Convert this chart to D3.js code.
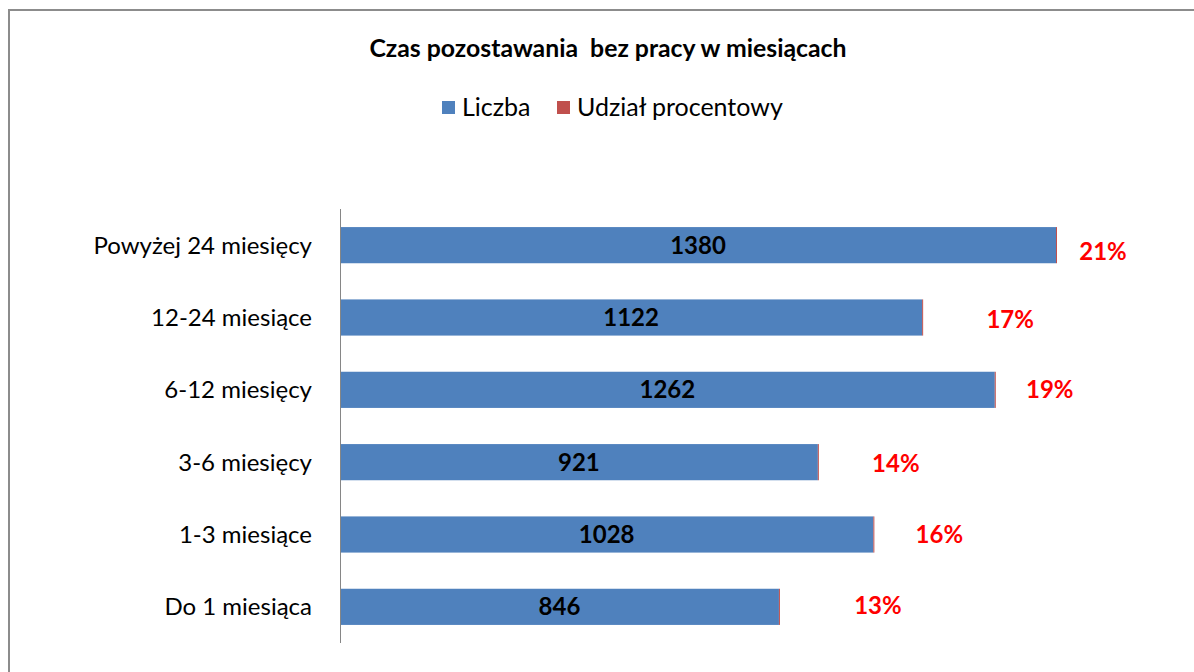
<!DOCTYPE html>
<html><head><meta charset="utf-8">
<script src="https://cdn.jsdelivr.net/npm/d3@7"></script>
<style>body{margin:0;background:#fff}svg{display:block}text{white-space:pre}</style>
</head><body>
<script>
const categories = ["Powyżej 24 miesięcy","12-24 miesiące","6-12 miesięcy","3-6 miesięcy","1-3 miesiące","Do 1 miesiąca"];
const liczba = [1380,1122,1262,921,1028,846];
const udzial = [0.21,0.17,0.19,0.14,0.16,0.13];
const seriesNames = ["Liczba","Udział procentowy"];
const title = "Czas pozostawania  bez pracy w miesiącach";

// layout (manual label placement as in the original)
const pctLabelOffset = [47,88,55,78,66,99];
const pctLabelDy = [6,2,0,1,0,-1];

const W=1194,H=672;
const font = "Lato, 'Open Sans', sans-serif";
const svg = d3.select("body").append("svg").attr("width",W).attr("height",H);
svg.append("rect").attr("width",W).attr("height",H).attr("fill","#fff");
svg.append("path").attr("d",`M9,${H} V10 H${W}`).attr("fill","none").attr("stroke","#8c8c8c").attr("stroke-width",2);

const x = d3.scaleLinear().domain([0,1380]).range([340,1056]);
const y = d3.scaleBand().domain(categories).range([209,643]).paddingInner(0.5).paddingOuter(0.25);

svg.append("text").attr("x",608).attr("y",57).attr("text-anchor","middle")
  .attr("font-family",font).attr("font-weight","bold").attr("font-size",24.8).attr("fill","#000").text(title);

const colors = ["#4f81bd","#c0504d"];
const leg = [{x:442,name:seriesNames[0]},{x:557,name:seriesNames[1]}];
leg.forEach((l,i)=>{
  svg.append("rect").attr("x",l.x).attr("y",101).attr("width",13).attr("height",13).attr("fill",colors[i]);
  svg.append("text").attr("x",l.x+20).attr("y",116).attr("font-family",font).attr("font-size",25).attr("fill","#000").text(l.name);
});

const data = categories.map((c,i)=>({c,l:liczba[i],u:udzial[i],i}));
svg.selectAll(".b").data(data).join("rect").attr("class","b")
  .attr("x",x(0)).attr("y",d=>y(d.c)).attr("width",d=>x(d.l)-x(0)).attr("height",y.bandwidth()).attr("fill",colors[0]);
svg.selectAll(".r").data(data).join("rect").attr("class","r")
  .attr("x",d=>x(d.l)).attr("y",d=>y(d.c)).attr("width",d=>Math.max(1,x(d.l+d.u)-x(d.l))).attr("height",y.bandwidth()).attr("fill",colors[1]);

svg.append("line").attr("x1",340.5).attr("x2",340.5).attr("y1",209).attr("y2",643).attr("stroke","#868686").attr("stroke-width",1);

svg.selectAll(".cl").data(data).join("text").attr("class","cl")
  .attr("x",312).attr("y",d=>y(d.c)+y.bandwidth()/2).attr("dy","0.35em").attr("text-anchor","end")
  .attr("font-family",font).attr("font-size",24).attr("fill","#000").text(d=>d.c);

svg.selectAll(".vl").data(data).join("text").attr("class","vl")
  .attr("x",d=>(x(0)+x(d.l))/2).attr("y",d=>y(d.c)+y.bandwidth()/2).attr("dy","0.35em").attr("text-anchor","middle")
  .attr("font-family",font).attr("font-weight","bold").attr("font-size",24).attr("fill","#000").text(d=>d.l);

svg.selectAll(".pl").data(data).join("text").attr("class","pl")
  .attr("x",d=>x(d.l)+pctLabelOffset[d.i]).attr("y",d=>y(d.c)+y.bandwidth()/2+pctLabelDy[d.i]).attr("dy","0.35em").attr("text-anchor","middle")
  .attr("font-family",font).attr("font-weight","bold").attr("font-size",24).attr("fill","#ff0000").text(d=>Math.round(d.u*100)+"%");
</script>
</body></html>
